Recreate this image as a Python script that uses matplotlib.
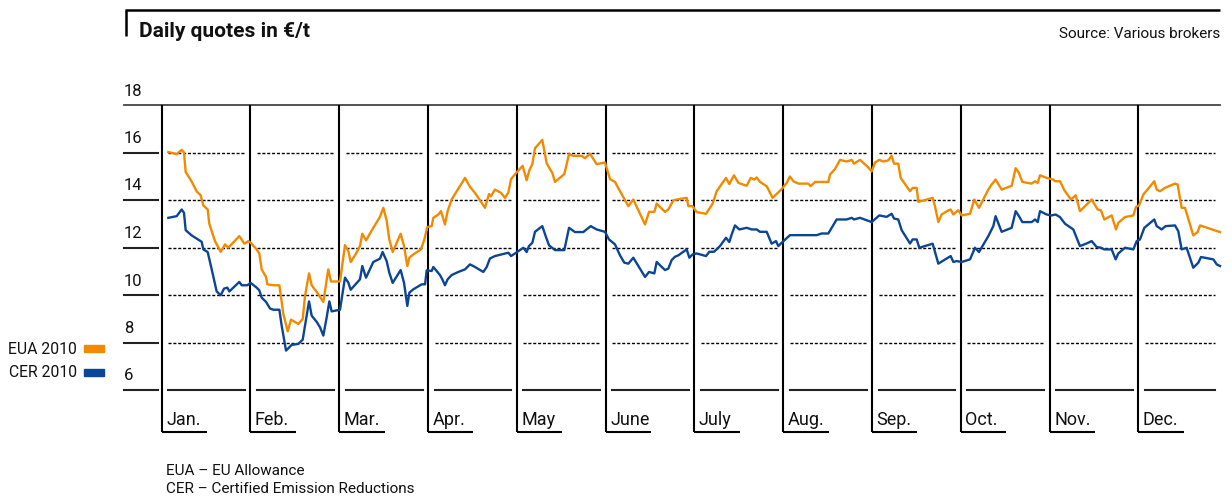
import matplotlib
matplotlib.use("Agg")
import matplotlib.pyplot as plt
from matplotlib.patches import Rectangle

plt.rcParams['font.family'] = ['Roboto', 'DejaVu Sans']

# data: time in months since 1 Jan 2010, price in EUR/t
t_eua = [0.075, 0.169, 0.225, 0.251, 0.270, 0.337, 0.394, 0.439, 0.469, 0.518, 0.536, 0.600, 0.664, 0.713, 0.750,
         0.874, 0.931, 0.976, 1.002, 1.069, 1.099, 1.126, 1.175, 1.190, 1.257, 1.325, 1.370, 1.419, 1.456, 1.539,
         1.588, 1.614, 1.659, 1.689, 1.745, 1.820, 1.876, 1.907, 2.008, 2.064, 2.102, 2.128, 2.177, 2.233, 2.259,
         2.301, 2.383, 2.458, 2.496, 2.533, 2.563, 2.601, 2.691, 2.729, 2.766, 2.789, 2.834, 2.920, 2.958, 2.991,
         3.040,
         3.059, 3.115, 3.145, 3.190, 3.220, 3.265, 3.416, 3.472, 3.528, 3.641, 3.686, 3.708, 3.753, 3.821, 3.866,
         3.904, 3.934, 3.997, 4.065, 4.110, 4.140, 4.174, 4.204, 4.286, 4.335, 4.373, 4.399, 4.429, 4.534, 4.587,
         4.636, 4.729, 4.767, 4.823, 4.898, 4.992, 5.049, 5.105, 5.161, 5.255, 5.311, 5.443, 5.488, 5.548, 5.574,
         5.668, 5.705, 5.762, 5.799, 5.912, 5.931, 5.979, 6.024,
         6.130, 6.205, 6.250, 6.306, 6.355, 6.392, 6.445, 6.494, 6.588, 6.633, 6.674, 6.700, 6.738, 6.813, 6.880,
         6.982, 7.038, 7.075, 7.113, 7.169, 7.282, 7.308, 7.357, 7.507, 7.526, 7.582, 7.639, 7.714, 7.770, 7.796,
         7.864, 7.958, 7.995, 8.033, 8.081, 8.126, 8.183, 8.220, 8.247, 8.295, 8.322, 8.427, 8.457, 8.502, 8.521,
         8.577, 8.682, 8.708, 8.746, 8.783, 8.858, 8.885, 8.915, 8.971, 9.009,
         9.103, 9.151, 9.204, 9.309, 9.346, 9.391, 9.459, 9.572, 9.617, 9.654, 9.692, 9.797, 9.835, 9.865, 9.891,
         9.966, 10.041, 10.060, 10.116, 10.165, 10.240, 10.293, 10.341, 10.473, 10.540, 10.578, 10.615, 10.698,
         10.747, 10.773, 10.848, 10.942, 10.972, 11.006, 11.055, 11.178, 11.205, 11.242, 11.298, 11.411, 11.441,
         11.486, 11.524, 11.617, 11.666, 11.693, 11.862, 11.918]
eua = [16.02, 15.93, 16.11, 16.00, 15.18, 14.78, 14.36, 14.20, 13.77, 13.60, 13.00, 12.27, 11.82, 12.13, 11.99,
       12.48, 12.16, 12.27, 12.20, 11.92, 11.75, 11.08, 10.76, 10.45, 10.41, 10.41, 9.20, 8.47, 8.96, 8.78,
       8.99, 9.96, 10.91, 10.41, 10.13, 9.71, 11.08, 10.57, 10.57, 12.10, 11.85, 11.39, 11.67, 12.06, 12.58,
       12.30, 12.83, 13.29, 13.67, 13.14, 12.34, 11.81, 12.58, 12.06, 11.22, 11.57, 11.71, 11.92, 12.34, 12.86,
       12.90,
       13.25, 13.39, 13.53, 12.97, 13.53, 14.02, 14.93, 14.55, 14.30, 13.67, 14.25, 14.16, 14.44, 14.30, 14.09,
       14.32, 14.88, 15.16, 15.44, 14.83, 15.25, 15.51, 16.18, 16.53, 15.55, 15.30, 15.14, 14.76, 15.09, 15.93,
       15.86, 15.86, 15.76, 15.95, 15.51, 15.58, 14.88, 14.76, 14.37, 13.74, 14.02, 12.97, 13.50, 13.50, 13.85,
       13.50, 13.60, 13.98, 14.02, 14.09, 13.74, 13.74, 13.49,
       13.42, 13.85, 14.37, 14.67, 14.93, 14.67, 15.04, 14.72, 14.60, 14.93, 14.86, 14.95, 14.76, 14.58, 14.09,
       14.46, 14.72, 14.99, 14.79, 14.69, 14.69, 14.58, 14.76, 14.76, 15.07, 15.30, 15.69, 15.62, 15.69, 15.53,
       15.69, 15.37, 15.20, 15.58, 15.69, 15.62, 15.67, 15.86, 15.53, 15.53, 14.93, 14.37, 14.51, 14.51, 13.92,
       13.98, 14.09, 13.74, 13.07, 13.39, 13.56, 13.60, 13.39, 13.57, 13.35,
       13.42, 14.02, 13.67, 14.44, 14.65, 14.86, 14.44, 14.60, 15.34, 15.14, 14.76, 14.69, 14.79, 14.72, 15.04,
       14.93, 14.86, 14.79, 14.79, 14.41, 14.02, 14.20, 13.53, 14.02, 13.60, 13.56, 13.18, 13.35,
       12.76, 13.04, 13.28, 13.35, 13.71, 13.77, 14.23, 14.79, 14.44, 14.37, 14.51, 14.69, 14.65,
       13.67, 13.67, 12.51, 12.65, 12.93, 12.72, 12.65]

t_cer = [0.075, 0.169, 0.225, 0.251, 0.270, 0.337, 0.424, 0.450, 0.469, 0.518, 0.563, 0.619, 0.664, 0.702, 0.739,
         0.762, 0.874, 0.901, 0.964, 1.002, 1.069, 1.099, 1.126, 1.175, 1.220, 1.257, 1.325, 1.351, 1.400, 1.464,
         1.539, 1.588, 1.614, 1.659, 1.689, 1.745, 1.783, 1.820, 1.858, 1.888, 1.914, 2.008, 2.064, 2.102, 2.128,
         2.233, 2.259, 2.301, 2.383, 2.458, 2.488, 2.533, 2.563, 2.601, 2.691, 2.729, 2.766, 2.789, 2.834, 2.928,
         2.966, 2.984, 3.040,
         3.059, 3.134, 3.160, 3.190, 3.220, 3.265, 3.340, 3.416, 3.472, 3.528, 3.622, 3.660, 3.697, 3.753, 3.829,
         3.904, 3.934, 3.979, 4.072, 4.110, 4.136, 4.174, 4.204, 4.286, 4.324, 4.362, 4.429, 4.534, 4.587, 4.654,
         4.748, 4.831, 4.898, 4.992, 5.037, 5.105, 5.161, 5.210, 5.255, 5.311, 5.443, 5.488, 5.548, 5.574, 5.668,
         5.705, 5.743, 5.780, 5.818, 5.912, 5.942, 5.979, 6.024,
         6.130, 6.167, 6.220, 6.287, 6.355, 6.392, 6.419, 6.456, 6.505, 6.588, 6.644, 6.700, 6.738, 6.813, 6.869,
         6.918, 6.944, 6.982, 7.075, 7.376, 7.432, 7.507, 7.545, 7.601, 7.714, 7.770, 7.796, 7.864, 7.995, 8.081,
         8.164, 8.220, 8.247, 8.295, 8.333, 8.427, 8.457, 8.502, 8.532, 8.682, 8.746, 8.885, 8.915, 8.952, 9.009,
         9.103, 9.159, 9.204, 9.309, 9.365, 9.391, 9.459, 9.572, 9.617, 9.654, 9.692, 9.797, 9.835, 9.865, 9.891,
         9.966, 10.022, 10.067, 10.116, 10.173, 10.266, 10.341, 10.416, 10.473, 10.529, 10.578, 10.615, 10.698,
         10.743, 10.773, 10.848, 10.942, 10.980, 11.017, 11.066, 11.178, 11.205, 11.261, 11.306, 11.411, 11.448,
         11.486, 11.542, 11.617, 11.674, 11.704, 11.843, 11.881, 11.918]
cer = [13.25, 13.32, 13.60, 13.46, 12.73, 12.51, 12.30, 12.24, 11.92, 11.81, 11.08, 10.15, 9.99, 10.27, 10.31,
       10.15, 10.55, 10.41, 10.41, 10.51, 10.31, 10.20, 9.89, 9.71, 9.43, 9.38, 9.38, 8.71, 7.66, 7.90,
       7.94, 8.12, 8.71, 9.73, 9.13, 8.87, 8.64, 8.29, 9.06, 9.73, 9.31, 9.38, 10.73, 10.52, 10.22,
       10.66, 11.22, 10.73, 11.39, 11.53, 11.81, 11.43, 10.94, 10.51, 11.05, 10.51, 9.54, 10.10, 10.24, 10.45,
       10.45, 11.04, 11.01,
       11.18, 10.84, 10.66, 10.41, 10.66, 10.84, 10.97, 11.08, 11.29, 11.18, 10.97, 11.18, 11.54, 11.64, 11.71,
       11.78, 11.64, 11.75, 11.99, 11.81, 12.06, 12.20, 12.66, 12.90, 12.48, 12.09, 11.89, 11.89, 12.83, 12.65,
       12.65, 12.90, 12.76, 12.66, 12.34, 12.13, 11.67, 11.36, 11.32, 11.57, 10.76, 10.97, 10.91, 11.39, 11.05,
       11.11, 11.47, 11.61, 11.67, 11.92, 11.57, 11.71, 11.75,
       11.64, 11.82, 11.82, 12.06, 12.41, 12.23, 12.55, 12.93, 12.76, 12.83, 12.76, 12.76, 12.66, 12.66, 12.16,
       12.27, 12.06, 12.20, 12.52, 12.52, 12.59, 12.59, 12.83, 13.18, 13.18, 13.25, 13.18, 13.25, 13.07, 13.35,
       13.29, 13.42, 13.22, 13.18, 12.73, 12.17, 12.34, 12.34, 11.99, 12.16, 11.32, 11.64, 11.39, 11.43, 11.39,
       11.50, 11.99, 11.81, 12.48, 12.90, 13.32, 12.66, 12.83, 13.53, 13.32, 13.07, 13.07, 13.18, 13.07, 13.53,
       13.39, 13.35, 13.39, 13.28, 13.00, 12.76, 12.06, 12.17, 12.27, 12.02, 11.99, 11.92, 11.92,
       11.50, 11.75, 11.99, 11.92, 12.27, 12.34, 12.83, 13.18, 12.90, 12.76, 12.90, 12.93, 12.69,
       11.92, 11.99, 11.15, 11.36, 11.60, 11.50, 11.29, 11.22]

months = ['Jan.', 'Feb.', 'Mar.', 'Apr.', 'May', 'June', 'July', 'Aug.', 'Sep.', 'Oct.', 'Nov.', 'Dec.']
y_ticks = [6, 8, 10, 12, 14, 16, 18]

ORANGE = '#F18A00'
BLUE = '#0B4596'

W, H = 1232, 496
fig = plt.figure(figsize=(W / 100, H / 100), dpi=100)

# axes placed so month panels and value grid line up with the reference
x0, x1 = 161.7, 1220
y_top, y_bot = 105, 390
ax = fig.add_axes([x0 / W, 1 - y_bot / H, (x1 - x0) / W, (y_bot - y_top) / H])
ax.set_xlim(0, 11.918)
ax.set_ylim(6, 18)
ax.axis('off')

px_x = 11.918 / (x1 - x0)   # months per pixel
px_y = 12 / (y_bot - y_top)  # value per pixel

# top line of the chart
ax.plot([-37.7 * px_x, 11.918], [18, 18], color='#444444', lw=1.3, clip_on=False)

# y labels with short solid lines on the left
for v in y_ticks:
    ax.text(-37.7 * px_x, v + 9.5 * px_y, str(v), fontsize=12, ha='left', va='baseline', color='#111111')
    if v < 18:
        ax.plot([-37.7 * px_x, -3.7 * px_x], [v, v], color='#222222', lw=1.5, clip_on=False)

# month panels
foot = 18 - (432 - y_top) * px_y
for i, name in enumerate(months):
    ax.plot([i, i], [18, foot], color='black', lw=1.5, clip_on=False, solid_capstyle='butt')
    ax.plot([i, i + 0.51], [foot, foot], color='black', lw=1.5, clip_on=False, solid_capstyle='butt')
    ax.text(i + 4.5 * px_x, 18 - (425 - y_top) * px_y, name, fontsize=13, ha='left', va='baseline',
            color='#111111')
    left = i + 6.5 * px_x
    right = min(i + 1, 11.918) - 5.5 * px_x
    for v in y_ticks[1:-1]:
        ax.plot([left, right], [v, v], color='black', lw=1.0, linestyle=(0, (2.2, 1.3)))
    ax.plot([left, right], [6, 6], color='#222222', lw=1.5, clip_on=False)

ax.plot(t_eua, eua, color=ORANGE, lw=1.7, clip_on=False, zorder=5)
ax.plot(t_cer, cer, color=BLUE, lw=1.7, clip_on=False, zorder=5)

# title frame
fig.add_artist(plt.Line2D([125 / W, 1220 / W], [1 - 10 / H, 1 - 10 / H], color='black', lw=1.8,
                          solid_capstyle='butt'))
fig.add_artist(plt.Line2D([126 / W, 126 / W], [1 - 10 / H, 1 - 36 / H], color='black', lw=1.8,
                          solid_capstyle='butt'))
fig.text(139 / W, 1 - 37 / H, 'Daily quotes in €/t', fontsize=15, fontweight='bold', ha='left',
         va='baseline', color='#111111')
fig.text(1220 / W, 1 - 38 / H, 'Source: Various brokers', fontsize=11, ha='right', va='baseline',
         color='#111111')

# legend on the left
fig.text(77 / W, 1 - 354 / H, 'EUA 2010', fontsize=11.3, ha='right', va='baseline', color='#111111')
fig.text(77 / W, 1 - 377 / H, 'CER 2010', fontsize=11.3, ha='right', va='baseline', color='#111111')
fig.add_artist(Rectangle((84 / W, 1 - 352 / H), 20 / W, 7 / H, color=ORANGE, transform=fig.transFigure))
fig.add_artist(Rectangle((84 / W, 1 - 376 / H), 20 / W, 7 / H, color=BLUE, transform=fig.transFigure))

# footnote
fig.text(166 / W, 1 - 475 / H, 'EUA – EU Allowance', fontsize=11, ha='left', va='baseline', color='#111111')
fig.text(166 / W, 1 - 493 / H, 'CER – Certified Emission Reductions', fontsize=11, ha='left', va='baseline',
         color='#111111')

fig.savefig('out.png', dpi=100)
